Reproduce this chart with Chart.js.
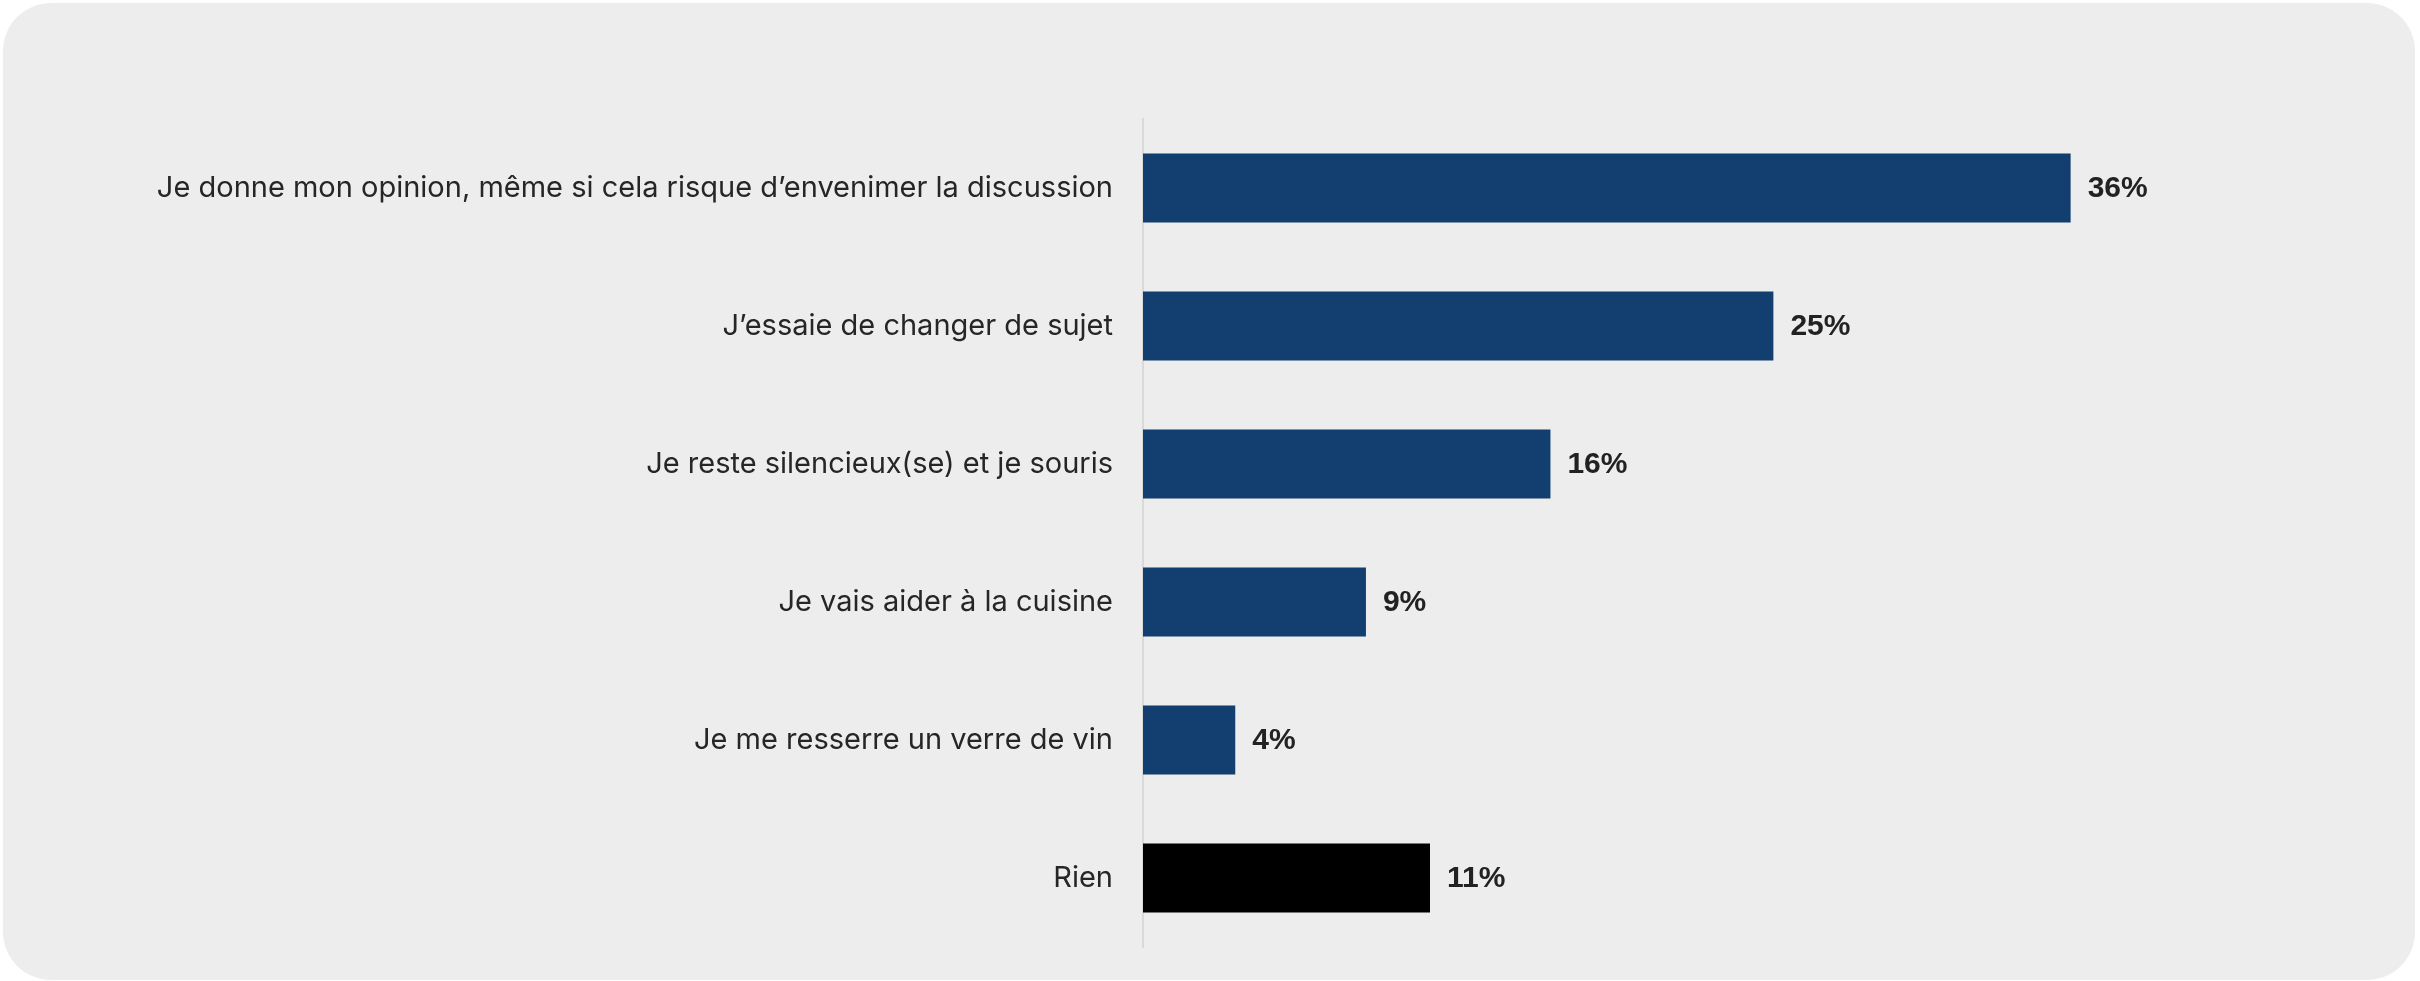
<!DOCTYPE html>
<html>
<head>
<meta charset="utf-8">
<script src="https://cdn.jsdelivr.net/npm/chart.js@4/dist/chart.umd.min.js"></script>
<style>
  html, body { margin: 0; padding: 0; background: #ffffff; width: 2420px; height: 981px; overflow: hidden; }
  #panel { position: absolute; left: 3px; top: 3px; width: 2412px; height: 977px; border-radius: 48px; background: #EDEDED; }
  #c { position: absolute; left: 0; top: 0; }
</style>
</head>
<body>
<div id="panel"></div>
<canvas id="c" width="2420" height="981"></canvas>
<script>
const categories = [
  "Je donne mon opinion, même si cela risque d\u2019envenimer la discussion",
  "J\u2019essaie de changer de sujet",
  "Je reste silencieux(se) et je souris",
  "Je vais aider à la cuisine",
  "Je me resserre un verre de vin",
  "Rien"
];
const values = [36.2, 24.6, 15.9, 8.7, 3.6, 11.2];
const valueLabels = ["36%", "25%", "16%", "9%", "4%", "11%"];

const NAVY = "#123F6F";
const BLACK = "#000000";

const valueLabelPlugin = {
  id: "valueLabels",
  afterDatasetsDraw(chart) {
    const ctx = chart.ctx;
    const meta = chart.getDatasetMeta(0);
    ctx.save();
    ctx.font = "bold 30px 'Liberation Sans', Arial, sans-serif";
    ctx.fillStyle = "#222222";
    ctx.textAlign = "left";
    ctx.textBaseline = "middle";
    meta.data.forEach((bar, i) => {
      ctx.fillText(valueLabels[i], bar.x + 17, bar.y + 1);
    });
    ctx.restore();
  }
};

new Chart(document.getElementById("c"), {
  type: "bar",
  data: {
    labels: categories,
    datasets: [{
      data: values,
      backgroundColor: (c) => c.dataIndex === categories.length - 1 ? BLACK : NAVY,
      borderWidth: 0,
      barPercentage: 0.5,
      categoryPercentage: 1.0
    }]
  },
  options: {
    indexAxis: "y",
    responsive: false,
    devicePixelRatio: 1,
    animation: false,
    layout: { padding: { top: 119, bottom: 34, left: 0, right: 47 } },
    plugins: { legend: { display: false }, tooltip: { enabled: false } },
    scales: {
      x: {
        display: false,
        min: 0,
        max: 48
      },
      y: {
        grid: { display: false, drawTicks: true, tickLength: 30 },
        border: { display: true, color: "#D9D9D9", width: 2 },
        ticks: {
          color: "#262626",
          padding: 0,
          font: { family: "Inter, Roboto, sans-serif", size: 29 }
        },
        afterFit(scale) { scale.width = 1143; }
      }
    }
  },
  plugins: [valueLabelPlugin]
});
</script>
</body>
</html>
